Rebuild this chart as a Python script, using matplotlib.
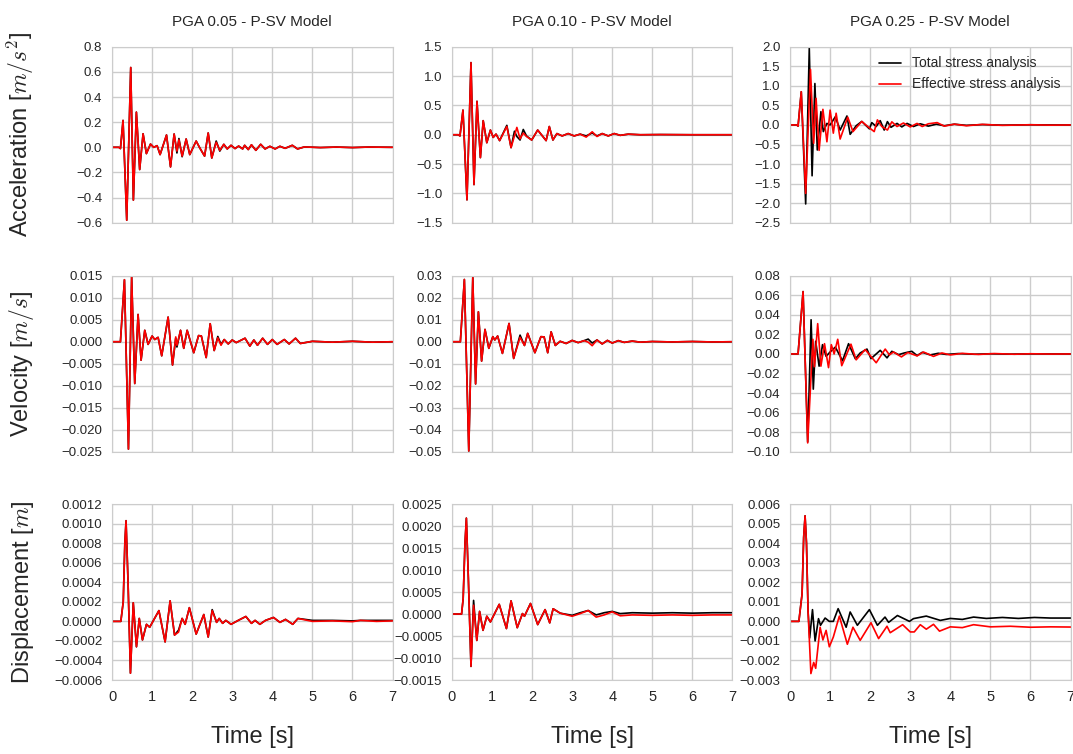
import numpy as np
import matplotlib
matplotlib.use("Agg")
import matplotlib.pyplot as plt
import seaborn as sns
from matplotlib.ticker import FuncFormatter, MultipleLocator

# ---- PGA 0.05 ----
t_acc_05 = [0, 0.17, 0.21, 0.275, 0.367, 0.467, 0.533, 0.608, 0.69, 0.775,
            0.858, 0.96, 1.04, 1.125, 1.2, 1.36, 1.46, 1.55, 1.62, 1.67,
            1.75, 1.85, 1.94, 2.1, 2.19, 2.31, 2.4, 2.49, 2.6, 2.69,
            2.79, 2.875, 2.97, 3.07, 3.16, 3.26, 3.31, 3.4, 3.48, 3.59,
            3.71, 3.82, 3.94, 4.07, 4.19, 4.32, 4.5, 4.63, 4.8, 5.2,
            5.6, 6.0, 6.4, 7.0]
acc_eff_05 = [0, 0, -0.01, 0.214, -0.58, 0.635, -0.42, 0.28, -0.177, 0.108,
              -0.05, 0.026, 0.0, 0.013, -0.058, 0.098, -0.156, 0.106, -0.03, 0.06,
              -0.07, 0.066, -0.058, 0.05, -0.005, -0.07, 0.114, -0.085, 0.04, -0.024,
              0.024, -0.013, 0.016, -0.01, 0.01, -0.013, 0.016, -0.018, 0.02, -0.024,
              0.024, -0.013, 0.008, -0.013, 0.008, -0.008, 0.016, -0.013, 0.003, -0.002,
              0.002, -0.002, 0.002, 0.0]
acc_tot_05 = [0, 0, -0.01, 0.214, -0.58, 0.635, -0.42, 0.28, -0.177, 0.108,
              -0.05, 0.026, 0.0, 0.013, -0.058, 0.098, -0.156, 0.106, -0.045, 0.07,
              -0.075, 0.066, -0.058, 0.05, -0.005, -0.07, 0.114, -0.085, 0.05, -0.03,
              0.024, -0.013, 0.016, -0.01, 0.01, -0.013, 0.016, -0.018, 0.02, -0.024,
              0.024, -0.013, 0.008, -0.013, 0.008, -0.008, 0.016, -0.013, 0.003, -0.002,
              0.002, -0.002, 0.002, 0.0]

t_vel_05 = [0, 0.21, 0.31, 0.41, 0.49, 0.567, 0.65, 0.725, 0.817, 0.9,
            1.0, 1.067, 1.15, 1.24, 1.4, 1.51, 1.59, 1.62, 1.71, 1.79,
            1.875, 2.04, 2.16, 2.23, 2.35, 2.45, 2.55, 2.64, 2.72, 2.8,
            2.9, 3.0, 3.1, 3.32, 3.44, 3.54, 3.63, 3.76, 3.88, 4.0,
            4.12, 4.3, 4.42, 4.58, 4.7, 5.0, 5.5, 6.0, 6.5, 7.0]
vel_eff_05 = [0, 0, 0.0141, -0.0244, 0.0147, -0.0095, 0.0062, -0.0042, 0.0026, -0.0006,
              0.0013, 0.0005, 0.001, -0.0032, 0.0056, -0.0053, 0.0011, -0.0008, 0.0026, -0.0015,
              0.0026, -0.0025, 0.0014, 0.0013, -0.0036, 0.0041, -0.002, 0.0009, -0.0008, 0.0005,
              -0.0005, 0.0004, -0.0002, 0.0008, -0.001, 0.0004, -0.0008, 0.0008, -0.0006, 0.0005,
              -0.0006, 0.0005, -0.0005, 0.0008, -0.0004, 0.0001, -0.0001, 0.0001, -0.0001, 0]
vel_tot_05 = [0, 0, 0.0141, -0.0244, 0.0147, -0.0095, 0.0062, -0.0042, 0.0026, -0.0006,
              0.0013, 0.0005, 0.001, -0.0032, 0.0056, -0.0053, 0.0008, -0.0012, 0.0026, -0.0015,
              0.0026, -0.0025, 0.0014, 0.0013, -0.0036, 0.0041, -0.002, 0.0012, -0.0006, 0.0005,
              -0.0005, 0.0004, -0.0002, 0.0008, -0.001, 0.0004, -0.0008, 0.0008, -0.0006, 0.0005,
              -0.0006, 0.0005, -0.0005, 0.0008, -0.0004, 0.0001, -0.0001, 0.0001, -0.0001, 0]

t_dis_05 = [0, 0.22, 0.28, 0.32, 0.35, 0.4, 0.46, 0.53, 0.61, 0.68,
            0.76, 0.86, 0.94, 1.17, 1.325, 1.45, 1.56, 1.66, 1.75, 1.825,
            1.93, 2.1, 2.29, 2.4, 2.5, 2.61, 2.675, 2.76, 2.84, 2.97,
            3.15, 3.34, 3.48, 3.57, 3.69, 3.83, 4.03, 4.19, 4.33, 4.51,
            4.64, 5.0, 5.5, 6.0, 6.2, 6.6, 7.0]
dis_eff_05 = [0, 0, 0.0002, 0.0008, 0.00103, 0.0004, -0.00053, 0.00019, -0.00026, 0.00003,
              -0.00019, -0.00003, -0.00006, 0.00011, -0.00021, 0.00021, -0.00014, -0.00011, 0.00003, -0.00003,
              0.00014, -0.00013, 0.00007, -0.00016, 0.00011, -0.00001, 0.00003, -0.00002, 0.00001, -0.00003,
              0.00001, 0.00005, -0.00002, 0.00001, -0.00003, 0.00001, 0.00004, -0.00001, 0.00002, -0.00003,
              0.00003, 0.0, 0.000005, -0.000003, 0.00001, 0.0, 0.000005]
dis_tot_05 = [0, 0, 0.0002, 0.0008, 0.00103, 0.0004, -0.00053, 0.00019, -0.00026, 0.00003,
              -0.00019, -0.00003, -0.00006, 0.00011, -0.00021, 0.00021, -0.00014, -0.00009, 0.00003, -0.00003,
              0.00014, -0.00013, 0.00007, -0.00016, 0.00012, -0.00001, 0.00003, -0.00002, 0.00001, -0.00003,
              0.00001, 0.00005, -0.00002, 0.00001, -0.00003, 0.00001, 0.00004, -0.00001, 0.00002, -0.00003,
              0.00003, 0.00001, 0.00001, 0.000005, 0.00001, 0.00001, 0.00001]

# ---- PGA 0.10 ----
t_acc_10 = [0, 0.16, 0.2, 0.275, 0.375, 0.475, 0.55, 0.625, 0.71, 0.78,
            0.87, 0.96, 1.03, 1.1, 1.19, 1.37, 1.475, 1.56, 1.62, 1.7,
            1.78, 1.86, 1.99, 2.14, 2.35, 2.43, 2.52, 2.62, 2.75, 2.9,
            3.05, 3.2, 3.35, 3.5, 3.62, 3.75, 3.9, 4.05, 4.2, 4.4,
            4.7, 5.2, 6.0, 7.0]
acc_eff_10 = [0, 0, -0.02, 0.42, -1.11, 1.23, -0.85, 0.57, -0.39, 0.24,
              -0.136, 0.08, -0.045, 0.011, -0.1, 0.14, -0.22, -0.02, 0.125, -0.07,
              0.03, -0.03, -0.09, 0.08, -0.1, 0.14, -0.09, 0.02, -0.02, 0.02,
              -0.02, 0.01, -0.04, 0.05, -0.03, 0.02, -0.02, 0.02, -0.01, 0.01,
              0, 0.003, 0, 0]
acc_tot_10 = [0, 0, -0.02, 0.42, -1.11, 1.23, -0.85, 0.57, -0.39, 0.24,
              -0.136, 0.08, -0.045, 0.011, -0.1, 0.16, -0.22, 0.06, -0.03, -0.09,
              0.09, -0.02, -0.09, 0.08, -0.1, 0.14, -0.09, 0.02, -0.02, 0.02,
              -0.02, 0.01, -0.02, 0.03, -0.02, 0.02, -0.02, 0.02, -0.01, 0.01,
              0, 0.003, 0, 0]

t_vel_10 = [0, 0.21, 0.31, 0.42, 0.52, 0.59, 0.66, 0.74, 0.825, 0.92,
            1.02, 1.07, 1.14, 1.26, 1.425, 1.54, 1.7, 1.81, 1.89, 2.07,
            2.22, 2.3, 2.39, 2.475, 2.58, 2.7, 2.85, 3.0, 3.15, 3.3,
            3.4, 3.5, 3.62, 3.75, 3.88, 4.0, 4.15, 4.3, 4.5, 4.7,
            5.0, 5.5, 6.0, 6.5, 7.0]
vel_eff_10 = [0, 0, 0.0283, -0.0497, 0.0292, -0.0192, 0.0136, -0.0088, 0.0056, -0.003,
              0.0023, 0.0008, 0.0026, -0.0053, 0.0083, -0.0076, 0.002, -0.0017, 0.0038, -0.005,
              0.0023, 0.0022, -0.005, 0.0045, -0.0017, 0.0002, -0.0008, 0.0006, -0.0004, 0.0005,
              -0.0002, -0.0018, 0.0008, -0.001, 0.0006, -0.0006, 0.0005, -0.0003, 0.0003, -0.0002,
              0.0001, -0.0001, 0.0001, -0.0001, 0]
vel_tot_10 = [0, 0, 0.0283, -0.0497, 0.0292, -0.0192, 0.0136, -0.0088, 0.0056, -0.003,
              0.0023, 0.0008, 0.0026, -0.0053, 0.0083, -0.0076, 0.003, -0.0017, 0.0038, -0.005,
              0.0023, 0.0022, -0.005, 0.0045, -0.0017, 0.0002, -0.0008, 0.0006, -0.0004, 0.0005,
              0.0012, -0.0006, 0.0008, -0.001, 0.0006, -0.0006, 0.0005, -0.0003, 0.0003, -0.0002,
              0.0001, -0.0001, 0.0001, -0.0001, 0]

t_dis_10 = [0, 0.24, 0.28, 0.325, 0.36, 0.41, 0.475, 0.54, 0.62, 0.69,
            0.775, 0.87, 0.96, 1.18, 1.36, 1.475, 1.63, 1.76, 1.81, 1.96,
            2.14, 2.325, 2.44, 2.525, 2.7, 3.0, 3.2, 3.4, 3.6, 3.8,
            4.0, 4.2, 4.5, 5.0, 5.5, 6.0, 6.5, 7.0]
dis_eff_10 = [0, 0, 0.00035, 0.0016, 0.00218, 0.0008, -0.00119, 0.0002, -0.0006, 0.00006,
              -0.00037, -0.00005, -0.00018, 0.00022, -0.00033, 0.0003, -0.00031, 0.00001, -0.00005, 0.00024,
              -0.00024, 0.0001, -0.0002, 0.00012, 0.00002, -0.00005, 0.00001, 0.00008, -0.00007, -0.00002,
              0.00005, -0.00004, -0.00002, -0.00003, -0.00002, -0.00003, -0.00002, -0.00002]
dis_tot_10 = [0, 0, 0.00035, 0.0016, 0.00218, 0.0008, -0.00119, 0.00031, -0.0006, 0.00006,
              -0.00037, -0.00005, -0.00018, 0.00022, -0.00033, 0.0003, -0.00031, 0.00001, -0.00005, 0.00024,
              -0.00024, 0.0001, -0.0002, 0.00012, 0.00002, -0.00003, 0.00003, 0.00008, -0.00002, 0.00003,
              0.00006, 0.00001, 0.00003, 0.00002, 0.00003, 0.00002, 0.00003, 0.00003]

# ---- PGA 0.25 ----
t_acc_tot_25 = [0, 0.17, 0.2, 0.28, 0.39, 0.48, 0.55, 0.62, 0.68, 0.77,
                0.83, 0.92, 1.0, 1.13, 1.25, 1.42, 1.5, 1.65, 1.79, 1.98,
                2.04, 2.15, 2.25, 2.35, 2.43, 2.52, 2.67, 2.79, 2.92, 3.08,
                3.25, 3.45, 3.65, 3.85, 4.1, 4.4, 4.8, 5.3, 6.0, 6.5, 7.0]
acc_tot_25 = [0, 0, -0.03, 0.85, -2.02, 1.96, -1.3, 1.06, -0.64, 0.34,
              -0.17, 0.04, 0, 0.21, -0.13, 0.23, -0.24, -0.02, 0.09, -0.1,
              0.06, -0.04, 0.11, -0.13, 0.085, -0.06, 0.04, -0.05, 0.04, -0.04,
              0.03, -0.03, 0.02, -0.02, 0.02, -0.01, 0.01, -0.005, 0.005, 0, 0]
t_acc_eff_25 = [0, 0.17, 0.2, 0.28, 0.39, 0.51, 0.59, 0.65, 0.725, 0.82,
                0.92, 1.0, 1.08, 1.15, 1.25, 1.44, 1.57, 1.79, 1.95, 2.1,
                2.18, 2.29, 2.43, 2.54, 2.67, 2.83, 3.0, 3.17, 3.3, 3.45,
                3.67, 3.85, 4.1, 4.4, 4.8, 5.3, 6.0, 6.5, 7.0]
acc_eff_25 = [0, 0, -0.03, 0.85, -1.75, 1.42, -0.47, 0.68, -0.65, 0.4,
              -0.43, 0.38, -0.21, 0.3, -0.36, 0.2, -0.17, 0.09, -0.05, -0.17,
              0.13, -0.04, -0.13, 0.08, -0.04, 0.05, -0.05, 0.04, -0.04, 0.03,
              0.06, -0.03, 0.02, -0.02, 0.015, -0.01, 0.005, -0.005, 0]

t_vel_tot_25 = [0, 0.2, 0.325, 0.44, 0.525, 0.58, 0.64, 0.725, 0.81, 0.9,
                1.0, 1.13, 1.31, 1.46, 1.63, 1.75, 1.92, 2.02, 2.25, 2.42,
                2.54, 2.71, 2.85, 3.04, 3.17, 3.3, 3.5, 3.7, 3.9, 4.2,
                4.6, 5.0, 5.5, 6.0, 6.5, 7.0]
vel_tot_25 = [0, 0, 0.0638, -0.09, 0.035, -0.036, 0.013, -0.0125, 0.0095, -0.0024,
              0.002, 0.007, -0.007, 0.0105, -0.005, 0.001, 0.005, -0.0048, 0.0037, -0.004,
              0.0027, -0.0007, 0.001, 0.0027, -0.0017, 0.0017, -0.001, 0.0007, -0.0005, 0.0004,
              -0.0003, 0.0002, -0.0002, 0.0001, 0, 0]
t_vel_eff_25 = [0, 0.2, 0.325, 0.44, 0.57, 0.61, 0.69, 0.77, 0.86, 0.96,
                1.03, 1.1, 1.19, 1.29, 1.52, 1.65, 1.875, 2.15, 2.375, 2.48,
                2.58, 2.78, 2.94, 3.17, 3.33, 3.58, 3.79, 4.0, 4.3, 4.7,
                5.1, 5.6, 6.0, 6.5, 7.0]
vel_eff_25 = [0, 0, 0.0638, -0.091, 0.015, -0.013, 0.031, -0.0125, 0.0105, -0.014,
              0.0095, 0, 0.015, -0.012, 0.01, -0.006, 0.0045, -0.009, 0.005, -0.001,
              0.002, -0.003, 0.0015, -0.002, 0.002, -0.0025, 0.001, -0.001, 0.0006, -0.0005,
              0.0004, -0.0003, 0.0002, -0.0001, 0]

t_dis_tot_25 = [0, 0.22, 0.3, 0.34, 0.375, 0.41, 0.45, 0.49, 0.56, 0.625,
                0.71, 0.76, 0.875, 0.98, 1.08, 1.2, 1.4, 1.5, 1.68, 1.98,
                2.18, 2.37, 2.46, 2.68, 2.98, 3.08, 3.4, 3.75, 4.0, 4.3,
                4.58, 4.9, 5.3, 5.7, 6.1, 6.5, 7.0]
dis_tot_25 = [0, 0, 0.0014, 0.0043, 0.0054, 0.004, 0.0005, -0.00085, 0.0006, -0.001,
              0.00014, -0.0002, 0.00017, 0, 0, 0.00065, -0.0003, 0.00048, -0.0002, 0.0006,
              -0.0002, 0.00022, -0.00005, 0.0003, 0, 0.00014, 0.00027, 0.00005, 0.00015, 0.0001,
              0.00022, 0.00015, 0.0002, 0.00015, 0.0002, 0.00017, 0.00017]
t_dis_eff_25 = [0, 0.22, 0.3, 0.34, 0.375, 0.41, 0.45, 0.52, 0.59, 0.64,
                0.75, 0.82, 0.9, 0.98, 1.08, 1.23, 1.43, 1.57, 1.75, 2.02,
                2.21, 2.42, 2.5, 2.81, 3.0, 3.1, 3.25, 3.4, 3.58, 3.73,
                4.0, 4.3, 4.58, 5.0, 5.5, 6.0, 6.5, 7.0]
dis_eff_25 = [0, 0, 0.0014, 0.0043, 0.0054, 0.004, 0.0005, -0.00267, -0.0021, -0.0024,
              -0.0003, -0.00095, -0.00046, -0.0013, -0.0008, 0.00027, -0.00117, -0.0003, -0.00097, -0.00007,
              -0.00088, -0.00025, -0.00058, -0.00017, -0.00054, -0.00054, -0.00017, -0.0004, -0.00015, -0.0005,
              -0.00028, -0.00032, -0.00017, -0.00028, -0.00025, -0.0003, -0.00028, -0.00029]

titles = ["PGA 0.05 - P-SV Model", "PGA 0.10 - P-SV Model", "PGA 0.25 - P-SV Model"]
row_labels = [r"Acceleration [$m/s^2$]", r"Velocity [$m/s$]", r"Displacement [$m$]"]

panels = [
    [(t_acc_05, acc_tot_05, t_acc_05, acc_eff_05),
     (t_acc_10, acc_tot_10, t_acc_10, acc_eff_10),
     (t_acc_tot_25, acc_tot_25, t_acc_eff_25, acc_eff_25)],
    [(t_vel_05, vel_tot_05, t_vel_05, vel_eff_05),
     (t_vel_10, vel_tot_10, t_vel_10, vel_eff_10),
     (t_vel_tot_25, vel_tot_25, t_vel_eff_25, vel_eff_25)],
    [(t_dis_05, dis_tot_05, t_dis_05, dis_eff_05),
     (t_dis_10, dis_tot_10, t_dis_10, dis_eff_10),
     (t_dis_tot_25, dis_tot_25, t_dis_eff_25, dis_eff_25)],
]

# y limits, tick step, decimals
ylims = [
    [((-0.6, 0.8), 0.2, 1), ((-1.5, 1.5), 0.5, 1), ((-2.5, 2.0), 0.5, 1)],
    [((-0.025, 0.015), 0.005, 3), ((-0.05, 0.03), 0.01, 2), ((-0.10, 0.08), 0.02, 2)],
    [((-0.0006, 0.0012), 0.0002, 4), ((-0.0015, 0.0025), 0.0005, 4), ((-0.003, 0.006), 0.001, 3)],
]


def make_fmt(nd):
    def f(v, pos):
        s = "%.*f" % (nd, v)
        if float(s) == 0:
            s = "%.*f" % (nd, 0.0)
        return s.replace("-", "\u2212")
    return FuncFormatter(f)


sns.set_style("whitegrid")
plt.rcParams['font.family'] = ['Liberation Sans', 'DejaVu Sans']
plt.rcParams['mathtext.fontset'] = 'cm'

fig = plt.figure(figsize=(10.73, 7.54), dpi=100)
lefts = [0.1044, 0.4212, 0.7363]
width = 0.2614
bottoms = [0.7046, 0.4009, 0.0981]
height = 0.2334

for r in range(3):
    for c in range(3):
        ax = fig.add_axes([lefts[c], bottoms[r], width, height])
        tt, yt, te, ye = panels[r][c]
        ax.plot(tt, yt, color='black', lw=1.2, label='Total stress analysis')
        ax.plot(te, ye, color='red', lw=1.2, label='Effective stress analysis')
        (lo, hi), step, nd = ylims[r][c]
        ax.set_xlim(0, 7)
        ax.set_ylim(lo, hi)
        ax.yaxis.set_major_locator(MultipleLocator(step))
        ax.yaxis.set_major_formatter(make_fmt(nd))
        ax.xaxis.set_major_locator(MultipleLocator(1))
        ax.tick_params(axis='y', labelsize=9.5, pad=7, length=0)
        ax.tick_params(axis='x', labelsize=10.5, pad=7, length=0)
        for sp in ax.spines.values():
            sp.set_color('#cccccc')
        ax.grid(True, color='#cccccc', lw=1)
        if r < 2:
            ax.set_xticklabels([])
        if r == 0:
            ax.set_title(titles[c], fontsize=11, pad=15)
        if c == 0:
            ax.set_ylabel(row_labels[r], fontsize=17)
            ax.yaxis.set_label_coords(-0.27, 0.5)
        if r == 2:
            ax.set_xlabel("Time [s]", fontsize=17)
            ax.xaxis.set_label_coords(0.5, -0.26)
        if r == 0 and c == 2:
            ax.legend(loc='upper right', frameon=False, fontsize=10,
                      handlelength=1.6, borderaxespad=0.3)

fig.savefig("out.png", dpi=100)
